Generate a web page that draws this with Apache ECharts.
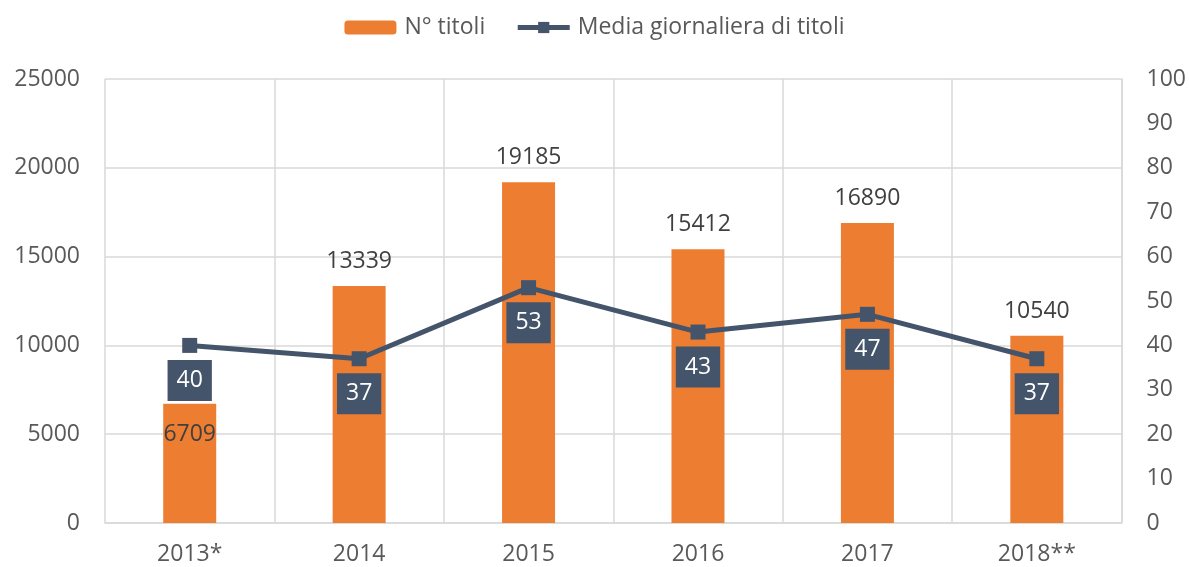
<!DOCTYPE html>
<html>
<head>
<meta charset="utf-8">
<script src="https://cdn.jsdelivr.net/npm/echarts@6/dist/echarts.min.js"></script>
<style>
  html, body { margin: 0; padding: 0; background: #fff; }
  #chart { width: 1189px; height: 567px; }
</style>
</head>
<body>
<div id="chart"></div>
<script>
// dati
const years = ['2013*', '2014', '2015', '2016', '2017', '2018**'];
const titoli = [6709, 13339, 19185, 15412, 16890, 10540];
const mediaGiornaliera = [40, 37, 53, 43, 47, 37];

const font = 'Open Sans';
const grigio = '#595959';
const fs = 23;

let myChart = echarts.init(document.getElementById('chart'));

// 2013: etichetta dentro la barra (come nell'originale)
let barData = titoli.map((v, i) => {
    if (i == 0) {
        return { value: v, label: { position: 'insideTop', distance: 19 } };
    }
    return v;
});

myChart.setOption({
    animation: false,
    textStyle: { fontFamily: font },
    legend: {
        top: 11,
        left: 'center',
        itemWidth: 52,
        itemHeight: 14,
        itemGap: 30,
        textStyle: { fontFamily: font, fontSize: fs, color: grigio, padding: [0, 0, 0, 3] },
        data: [
            { name: 'N° titoli' },
            { name: 'Media giornaliera di titoli', lineStyle: { width: 5 }, itemStyle: { color: '#44546A' } }
        ]
    },
    grid: {
        left: 105,
        right: 67,
        top: 79,
        bottom: 44
    },
    xAxis: {
        type: 'category',
        data: years,
        axisLine: { lineStyle: { color: '#d9d9d9', width: 1.5 } },
        axisTick: { show: false },
        splitLine: { show: true, lineStyle: { color: '#d9d9d9', width: 1.5 } },
        axisLabel: { color: grigio, fontSize: fs, fontFamily: font, margin: 20 }
    },
    yAxis: [{
        type: 'value',
        min: 0,
        max: 25000,
        interval: 5000,
        axisLine: { show: false },
        axisTick: { show: false },
        splitLine: { lineStyle: { color: '#d9d9d9', width: 1.5 } },
        axisLabel: { color: grigio, fontSize: fs, fontFamily: font, margin: 25, formatter: v => String(v) }
    }, {
        type: 'value',
        min: 0,
        max: 100,
        interval: 10,
        position: 'right',
        axisLine: { show: true, lineStyle: { color: '#d9d9d9', width: 1.5 } },
        axisTick: { show: false },
        splitLine: { show: false },
        axisLabel: { color: grigio, fontSize: fs, fontFamily: font, margin: 25 }
    }],
    series: [{
        name: 'N° titoli',
        type: 'bar',
        data: barData,
        barWidth: 53,
        itemStyle: { color: '#ED7D31' },
        label: {
            show: true,
            position: 'top',
            distance: 13,
            color: '#404040',
            fontSize: fs,
            fontFamily: font
        }
    }, {
        name: 'Media giornaliera di titoli',
        type: 'line',
        yAxisIndex: 1,
        data: mediaGiornaliera,
        symbol: 'rect',
        symbolSize: 15,
        lineStyle: { color: '#44546A', width: 5 },
        itemStyle: { color: '#44546A' },
        label: {
            show: true,
            position: 'bottom',
            distance: 7,
            color: '#fff',
            fontSize: fs,
            fontFamily: font,
            lineHeight: 27,
            backgroundColor: '#44546A',
            padding: [7, 9, 7, 9]
        },
        z: 5
    }]
});
</script>
</body>
</html>
